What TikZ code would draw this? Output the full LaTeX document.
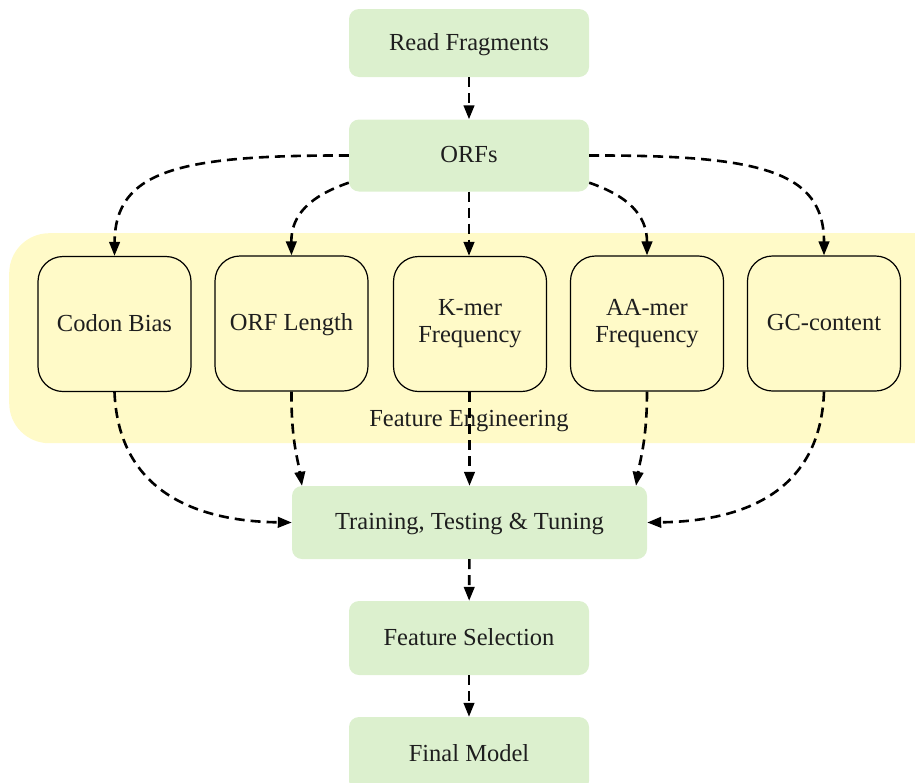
\documentclass[tikz,border=0pt]{standalone}
\usepackage{fontspec}
\setmainfont{Liberation Serif}
\usetikzlibrary{arrows.meta}
\definecolor{stepgreen}{RGB}{220,240,206}
\definecolor{bandyellow}{RGB}{255,250,200}
\definecolor{inktext}{RGB}{30,30,30}
\begin{document}
\begin{tikzpicture}[x=1pt,y=-1pt,
  every node/.style={font=\fontsize{24.5}{27}\selectfont, inner sep=0pt, text=inktext},
  oneline/.style={text height=14pt, text depth=0pt},
  stepbox/.style={oneline, fill=stepgreen, rounded corners=10pt, minimum width=240pt, minimum height=68pt},
  featbox/.style={draw=black, line width=1.2pt, fill=bandyellow, rounded corners=25pt,
                  minimum width=153pt, minimum height=135pt, align=center},
  flow/.style={line width=2.6pt, dash pattern=on 10pt off 6pt,
               -{Triangle[length=14pt,width=10.5pt]}}
]
\path[use as bounding box] (0,0) rectangle (915,782);
\begin{scope}
\clip (0,0) rectangle (915,782);

% feature engineering band (runs past the right edge)
\node[fill=bandyellow, rounded corners=40pt, minimum width=960pt, minimum height=210pt,
      anchor=north west] (band) at (9,233) {};
\node[anchor=base] (fetext) at (469,426) {Feature Engineering};

% pipeline steps
\node[stepbox] (read)  at (469,43)  {Read Fragments};
\node[stepbox, minimum height=72pt] (orfs)  at (469,155.5) {ORFs};
\node[stepbox, minimum width=355pt, minimum height=73pt] (train) at (469.5,522.5) {Training, Testing \& Tuning};
\node[stepbox, minimum height=74pt] (fsel)  at (469,638) {Feature Selection};
\node[stepbox, minimum height=74pt] (final) at (469,754) {Final Model};

% features
\node[featbox, oneline] (codon)  at (114.5,324) {Codon Bias};
\node[featbox, oneline] (orflen) at (291.5,323.5) {ORF Length};
\node[featbox]          (kmer)   at (470,324) {K-mer\\Frequency};
\node[featbox]          (aamer)  at (647,323.5) {AA-mer\\Frequency};
\node[featbox, oneline] (gc)     at (824,323.5) {GC-content};

% connectors
\draw[flow] (read) -- (orfs);
\draw[flow] (orfs.west) .. controls (180,155) and (115,170) .. (codon.north);
\draw[flow] (orfs.south west) ++(0,-9) .. controls (310,196) and (291,215) .. (orflen.north);
\draw[flow] (orfs.south) -- (orfs.south |- kmer.north);
\draw[flow] (orfs.south east) ++(0,-9) .. controls (628,196) and (647,215) .. (aamer.north);
\draw[flow] (orfs.east) .. controls (758,155) and (824,170) .. (gc.north);

\draw[flow] (codon.south) .. controls (118,480) and (180,521) .. (train.west);
\draw[flow] (orflen.south) .. controls (291,440) and (298,460) .. (train.north west -| 302,0);
\draw[flow] (kmer.south -| train.north) -- (train.north);
\draw[flow] (aamer.south) .. controls (647,440) and (640,460) .. (train.north east -| 636,0);
\draw[flow] (gc.south) .. controls (821,480) and (760,521) .. (train.east);

\draw[flow] (train) -- (fsel);
\draw[flow] (fsel) -- (final);
\end{scope}
\end{tikzpicture}
\end{document}
